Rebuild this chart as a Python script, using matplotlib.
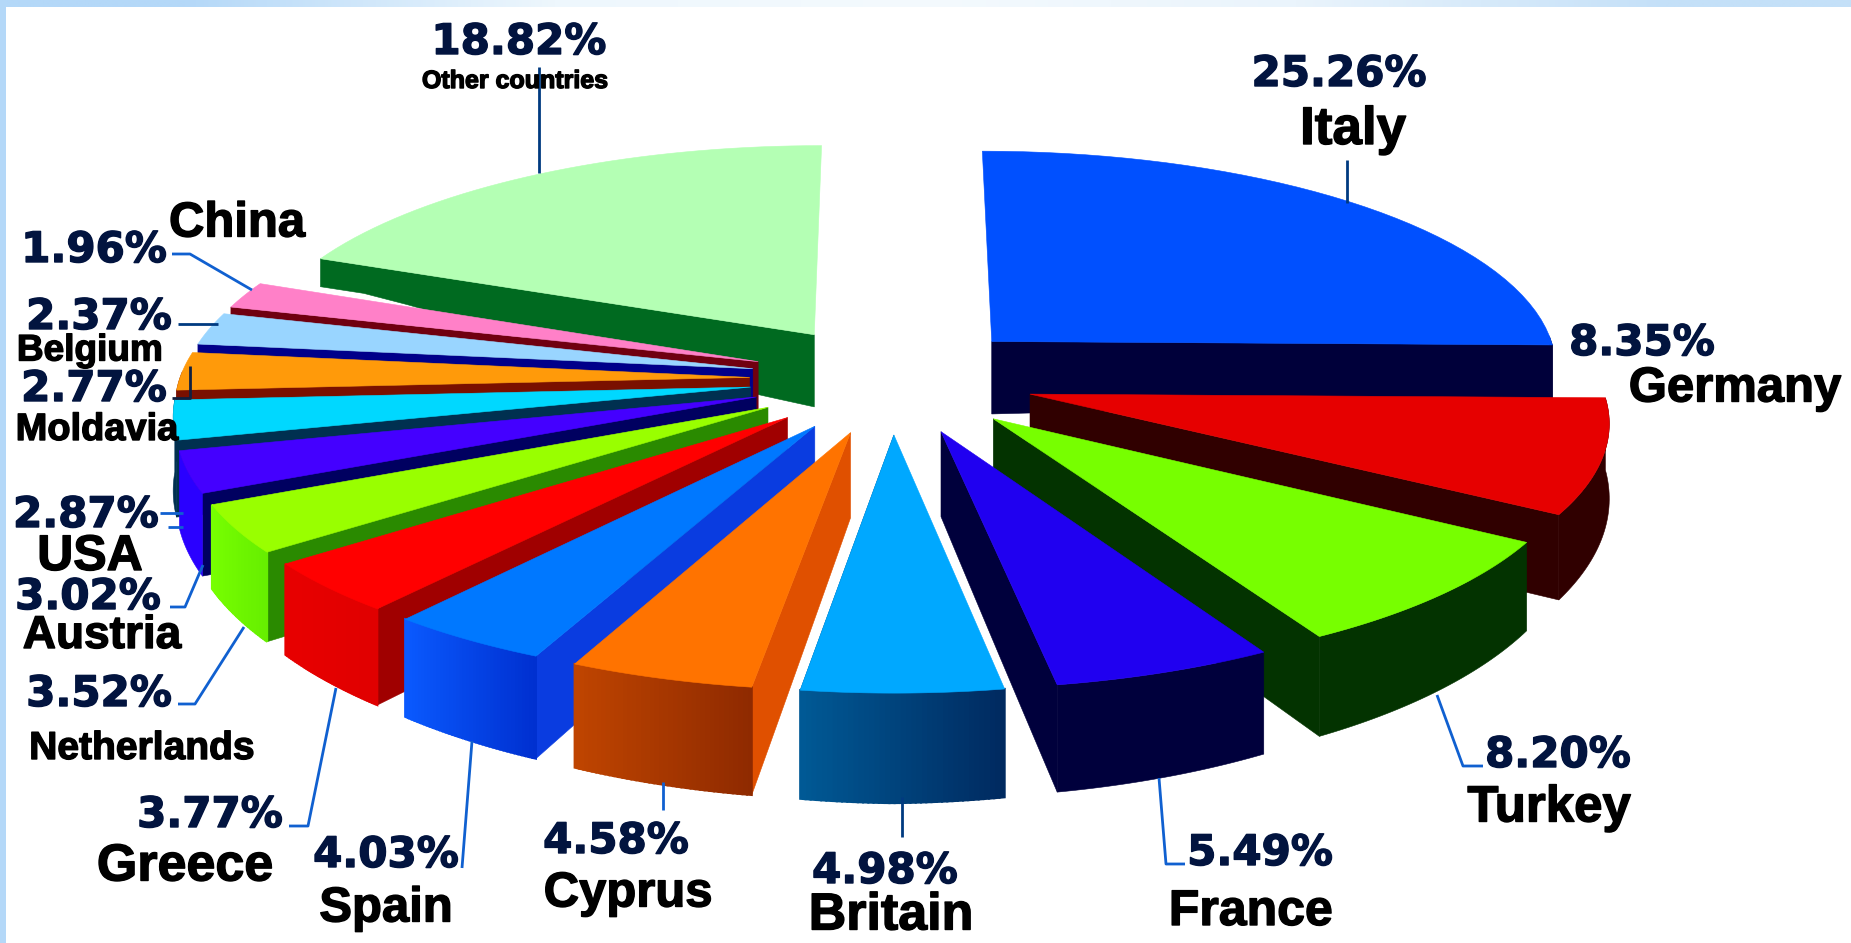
import numpy as np
import matplotlib
matplotlib.use("Agg")
import matplotlib.pyplot as plt
import matplotlib.patheffects as pe
from matplotlib.colors import to_rgb
from matplotlib.patches import Polygon

# slices, clockwise from 12 o'clock
countries = ['Italy', 'Germany', 'Turkey', 'France', 'Britain', 'Cyprus', 'Spain', 'Greece',
             'Netherlands', 'Austria', 'USA', 'Moldavia', 'Belgium', 'China', 'Other countries']
shares = [25.26, 8.35, 8.20, 5.49, 4.98, 4.58, 4.03, 3.77, 3.52, 3.02, 2.87, 2.77, 2.37, 1.96, 18.82]

top_colors = ['#0050ff', '#e60000', '#77ff00', '#2000f0', '#00a8ff', '#ff7300', '#0078ff', '#ff0000',
              '#99ff00', '#4400ff', '#00d8ff', '#ff9a0a', '#99d5ff', '#ff80c8', '#b4ffb4']
cut_colors = ['#00003a', '#300000', '#033300', '#00003c', '#004a80', '#e05000', '#0a3ce0', '#a00000',
              '#2a8a00', '#000060', '#003050', '#7a1000', '#00008a', '#700010', '#006a20']
rim_left = ['#00003a', '#300000', '#033300', '#00003c', '#005a96', '#c04500', '#0a5aff', '#e80000',
            '#77ff00', '#2a00ff', '#003050', '#7a1000', '#00008a', '#700010', '#006a20']
rim_right = ['#00003a', '#300000', '#033300', '#00003c', '#002a60', '#8f2a00', '#0030d0', '#e00000',
             '#66ee00', '#2a00ff', '#003050', '#7a1000', '#00008a', '#700010', '#006a20']

# pie geometry, in picture pixels
cx, cy = 892, 379
rx, ry = 570, 218
persp = 0.106
explode = 0.25

PCT = '#02143f'
BLK = '#000000'
# text, x, y, px size, family, colour
labels = [
    ('25.26%', 1339, 74, 42, 'DejaVu Sans', PCT), ('Italy', 1353, 130, 53, 'Liberation Sans', BLK),
    ('8.35%', 1642, 343, 42, 'DejaVu Sans', PCT), ('Germany', 1735, 389, 49, 'Liberation Sans', BLK),
    ('8.20%', 1558, 755, 42, 'DejaVu Sans', PCT), ('Turkey', 1549, 808, 51, 'Liberation Sans', BLK),
    ('5.49%', 1260, 853, 42, 'DejaVu Sans', PCT), ('France', 1251, 912, 50, 'Liberation Sans', BLK),
    ('4.98%', 885, 871, 42, 'DejaVu Sans', PCT), ('Britain', 891, 916, 52, 'Liberation Sans', BLK),
    ('4.58%', 616, 841, 42, 'DejaVu Sans', PCT), ('Cyprus', 628, 894, 49, 'Liberation Sans', BLK),
    ('4.03%', 386, 855, 42, 'DejaVu Sans', PCT), ('Spain', 386, 909, 49, 'Liberation Sans', BLK),
    ('3.77%', 210, 815, 42, 'DejaVu Sans', PCT), ('Greece', 185, 867, 52, 'Liberation Sans', BLK),
    ('3.52%', 99, 694, 42, 'DejaVu Sans', PCT), ('Netherlands', 142, 749, 39, 'Liberation Sans', BLK),
    ('3.02%', 88, 597, 42, 'DejaVu Sans', PCT), ('Austria', 102, 636, 46, 'Liberation Sans', BLK),
    ('2.87%', 86, 515, 42, 'DejaVu Sans', PCT), ('USA', 90, 557, 50, 'Liberation Sans', BLK),
    ('Moldavia', 97, 430, 38, 'Liberation Sans', BLK), ('2.77%', 94, 389, 42, 'DejaVu Sans', PCT),
    ('Belgium', 90, 351, 37, 'Liberation Sans', BLK), ('2.37%', 99, 317, 42, 'DejaVu Sans', PCT),
    ('1.96%', 94, 250, 42, 'DejaVu Sans', PCT), ('China', 237, 224, 49, 'Liberation Sans', BLK),
    ('18.82%', 519, 42, 42, 'DejaVu Sans', PCT), ('Other countries', 515, 81, 25, 'Liberation Sans', BLK),
]

# leader lines as (xs, ys, colour)
BLUE = '#1060d0'
DARK = '#003a80'
leaders = [
    ([1347, 1347], [160, 203], DARK),
    ([539, 539], [67, 173], DARK),
    ([172, 190, 252], [254, 254, 290], BLUE),
    ([178, 218], [324, 324], DARK),
    ([172, 190, 190], [398, 398, 366], '#102040'),
    ([160, 183], [513, 513], BLUE),
    ([168, 183], [527, 527], BLUE),
    ([170, 185, 203], [607, 607, 565], BLUE),
    ([178, 195, 244], [704, 704, 627], BLUE),
    ([289, 308, 336], [826, 826, 688], BLUE),
    ([462, 472], [868, 741], BLUE),
    ([663, 663], [810, 782], BLUE),
    ([902, 902], [837, 797], DARK),
    ([1185, 1166, 1159], [864, 864, 778], BLUE),
    ([1483, 1463, 1437], [766, 766, 695], BLUE),
]


def project(u, v):
    w = 1 / (1 + persp * v)
    return cx + rx * u * w, cy - ry * v * w


def drop(u, v):
    # how far the side wall falls below the top face
    h = 80 - 24 * v - 8 * np.abs(u) - 60 * np.abs(u) * np.maximum(v, 0)
    return np.maximum(h, 28)


def wall(ax, u, v, color, lw=0.4):
    x, y = project(u, v)
    xs = np.r_[x, x[::-1]]
    ys = np.r_[y, (y + drop(u, v))[::-1]]
    ax.add_patch(Polygon(np.c_[xs, ys], closed=True, fc=color, ec=color, lw=lw))


fig = plt.figure(figsize=(18.51, 9.43), dpi=100)
ax = fig.add_axes([0, 0, 1, 1])
ax.axis('off')

# pale window frame along the top and left
grad = np.array([[to_rgb('#b4d8f8'), to_rgb('#eef7fd'), to_rgb('#f4fafe'), to_rgb('#eaf4fc'), to_rgb('#c4e0f8')]])
ax.imshow(grad, extent=(0, 1851, 7, 0), aspect='auto', interpolation='bilinear', zorder=0)
ax.fill_between([0, 6], 0, 943, color='#b4d8f8', lw=0, zorder=0)
ax.set_xlim(0, 1851)
ax.set_ylim(943, 0)

fracs = np.array(shares) / np.sum(shares)
stops = np.r_[0, np.cumsum(fracs)]
starts = np.pi / 2 - 2 * np.pi * stops[:-1]
ends = np.pi / 2 - 2 * np.pi * stops[1:]
mids = (starts + ends) / 2

# back slices first so the front ones paint over them
for i in np.argsort(-np.sin(mids)):
    a0, a1, mid = starts[i], ends[i], mids[i]
    ou, ov = explode * np.cos(mid), explode * np.sin(mid)
    t = np.linspace(a0, a1, 40)
    arc_u, arc_v = ou + np.cos(t), ov + np.sin(t)

    # radial cut face that looks towards the viewer
    edge = a1 if np.cos(mid) > 0 else a0
    s = np.linspace(0, 1, 12)
    wall(ax, ou + s * np.cos(edge), ov + s * np.sin(edge), cut_colors[i])

    # outer rim, split up so that it can carry a colour ramp
    c0, c1 = np.array(to_rgb(rim_left[i])), np.array(to_rgb(rim_right[i]))
    front = np.sin(t) <= 0.03
    if front.sum() > 1:
        if rim_left[i] == rim_right[i]:
            wall(ax, arc_u[front], arc_v[front], rim_left[i])
        else:
            for j in range(len(t) - 1):
                if front[j]:
                    pos = (arc_u[j] - arc_u.min()) / max(np.ptp(arc_u), 1e-6)
                    wall(ax, arc_u[j:j + 2], arc_v[j:j + 2], tuple(c0 + (c1 - c0) * pos), lw=1.5)

    x, y = project(np.r_[ou, arc_u], np.r_[ov, arc_v])
    ax.add_patch(Polygon(np.c_[x, y], closed=True, fc=top_colors[i], ec=top_colors[i], lw=0.4))

for xs, ys, color in leaders:
    ax.plot(xs, ys, color=color, lw=2.0, solid_capstyle='butt', zorder=5)

for text, x, y, px, family, color in labels:
    tx = ax.text(x, y, text, fontsize=px * 0.72, family=family, weight='bold', color=color,
                 ha='center', va='center', zorder=6)
    tx.set_path_effects([pe.withStroke(linewidth=1.0, foreground=color)])

fig.savefig('out.png', dpi=100)
